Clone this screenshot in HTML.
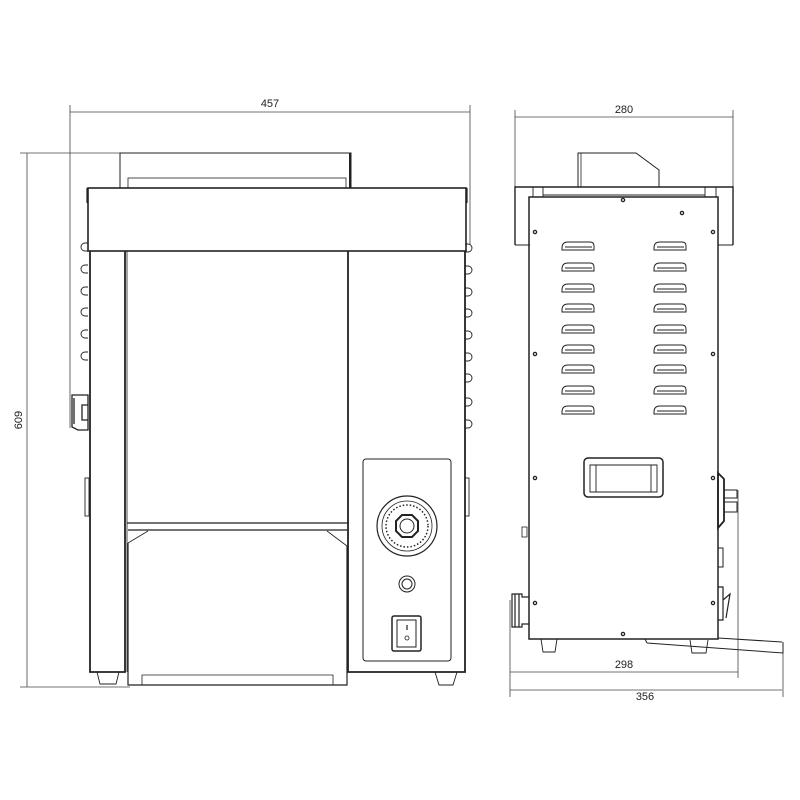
<!DOCTYPE html>
<html><head><meta charset="utf-8"><style>html,body{margin:0;padding:0;background:#fff}svg{display:block}</style></head>
<body>
<svg width="800" height="800" viewBox="0 0 800 800" xmlns="http://www.w3.org/2000/svg" font-family="Liberation Sans, sans-serif" fill="none" stroke="#222">
<g stroke="#444" stroke-width="0.8">
<line x1="70" y1="112" x2="470" y2="112"/>
<line x1="70" y1="105" x2="70" y2="428"/>
<line x1="470" y1="105" x2="470" y2="245"/>
<line x1="27" y1="153" x2="27" y2="687"/>
<line x1="20" y1="153" x2="120" y2="153"/>
<line x1="20" y1="687" x2="130" y2="687"/>
</g>
<text x="270" y="107" font-size="11" fill="#222" stroke="none" text-anchor="middle">457</text>
<text x="22" y="420" font-size="11" fill="#222" stroke="none" text-anchor="middle" transform="rotate(-90 22 420)">609</text>

<rect x="120" y="153" width="231" height="35" stroke-width="1"/>
<line x1="350" y1="153" x2="350" y2="188" stroke-width="2"/>
<rect x="128" y="178" width="218" height="10" stroke-width="0.8"/>
<rect x="88" y="188" width="378" height="63" stroke-width="1.6"/>
<path d="M87 188v15 M467 188v15" stroke-width="1.2"/>
<g stroke-width="0.9">
<path d="M88 243h-3a4 4 0 0 0 0 8h3 M88 265h-3a4 4 0 0 0 0 8h3 M88 287h-3a4 4 0 0 0 0 8h3 M88 308h-3a4 4 0 0 0 0 8h3 M88 330h-3a4 4 0 0 0 0 8h3 M88 352h-3a4 4 0 0 0 0 8h3"/>
<path d="M465 244h3a4 4 0 0 1 0 8h-3 M465 266h3a4 4 0 0 1 0 8h-3 M465 288h3a4 4 0 0 1 0 8h-3 M465 309h3a4 4 0 0 1 0 8h-3 M465 331h3a4 4 0 0 1 0 8h-3 M465 353h3a4 4 0 0 1 0 8h-3 M465 374h3a4 4 0 0 1 0 8h-3 M465 398h3a4 4 0 0 1 0 8h-3 M465 420h3a4 4 0 0 1 0 8h-3"/>
<rect x="85" y="478" width="4" height="38"/>
<rect x="465" y="478" width="4" height="38"/>
</g>
<path d="M88 395h-16v32l6 3h10z M74 398v26 M82 405h6v15h-6z" stroke-width="1.3"/>
<path d="M90 251V672h35V251" stroke-width="1.8"/>
<line x1="127" y1="251" x2="127" y2="672" stroke-width="0.8"/>
<path d="M348 251V672h117V251" stroke-width="1.8"/>
<line x1="127" y1="523" x2="348" y2="523" stroke-width="1.2"/>
<line x1="128" y1="530" x2="347" y2="530" stroke-width="1.2"/>
<path d="M128 543L148 531 M327 531L347 546" stroke-width="0.8"/>
<path d="M128 543V685h219V546" stroke-width="1.2"/>
<path d="M142 685v-10h191v10" stroke-width="0.8"/>
<path d="M97 672l3 12h16l3-12 M435 672l4 13h14l4-13" stroke-width="0.9"/>
<rect x="363" y="459" width="88" height="202" rx="3" stroke-width="1"/>
<circle cx="407" cy="526" r="30" stroke-width="1.2"/>
<circle cx="407" cy="526" r="25" stroke-width="0.8"/>
<circle cx="407" cy="526" r="21" stroke-width="1.5" stroke-dasharray="1.5 2"/>
<polygon points="402,515 412,515 418,521 418,531 412,537 402,537 396,531 396,521" stroke-width="2"/>
<circle cx="407" cy="526" r="7" stroke-width="1"/>
<circle cx="407" cy="584" r="8" stroke-width="1"/>
<circle cx="407" cy="584" r="5" stroke-width="1"/>
<rect x="392" y="616" width="29" height="35" rx="2" stroke-width="1.5"/>
<rect x="397" y="620" width="19" height="27" stroke-width="1"/>
<line x1="407" y1="625" x2="407" y2="630" stroke-width="1.2"/>
<circle cx="407" cy="638" r="2" stroke-width="0.8"/>

<g stroke="#444" stroke-width="0.8">
<line x1="515" y1="117" x2="733" y2="117"/>
<line x1="515" y1="110" x2="515" y2="190"/>
<line x1="733" y1="110" x2="733" y2="190"/>
<line x1="510" y1="672" x2="738" y2="672"/>
<line x1="510" y1="690" x2="782" y2="690"/>
<line x1="510" y1="600" x2="510" y2="697"/>
<line x1="738" y1="490" x2="738" y2="678"/>
<line x1="783" y1="653" x2="783" y2="697"/>
</g>
<text x="624" y="113" font-size="11" fill="#222" stroke="none" text-anchor="middle">280</text>
<text x="624" y="668" font-size="11" fill="#222" stroke="none" text-anchor="middle">298</text>
<text x="645" y="700" font-size="11" fill="#222" stroke="none" text-anchor="middle">356</text>
<path d="M515 245V187h218v58" stroke-width="1.4"/>
<path d="M515 245h15 M733 245h-15" stroke-width="1"/>
<path d="M533 187v10h10v-10 M705 187v10h11v-10 M543 195h162" stroke-width="0.9"/>
<path d="M578 187V153h58l23 17v17" stroke-width="1"/>
<line x1="581" y1="153" x2="581" y2="187" stroke-width="0.8"/>
<rect x="529" y="197" width="189" height="442" stroke-width="1.5"/>
<g stroke-width="1">
<g id="lvs">
<path id="l1" d="M568 242h22q4 0 4 4v4h-32v-2q0-6 6-6z M565 247h27"/>
<use href="#l1" y="21"/>
<use href="#l1" y="42"/>
<use href="#l1" y="62"/>
<use href="#l1" y="83"/>
<use href="#l1" y="103"/>
<use href="#l1" y="123"/>
<use href="#l1" y="144"/>
<use href="#l1" y="164"/>
</g>
<use href="#lvs" x="92"/>
</g>
<rect x="584" y="458" width="79" height="39" rx="4" stroke-width="1.5"/>
<path d="M590 465h67v27h-67z M596 465v27 M651 465v27" stroke-width="0.9"/>
<g stroke-width="1.3">
<circle cx="623" cy="200" r="1.6"/><circle cx="682" cy="213" r="1.6"/>
<circle cx="535" cy="232" r="1.6"/><circle cx="713" cy="232" r="1.6"/>
<circle cx="535" cy="354" r="1.6"/><circle cx="713" cy="354" r="1.6"/>
<circle cx="535" cy="478" r="1.6"/><circle cx="713" cy="478" r="1.6"/>
<circle cx="535" cy="603" r="1.6"/><circle cx="713" cy="603" r="1.6"/>
<circle cx="623" cy="634" r="1.6"/>
</g>
<path d="M718 473l6 6v42l-6 7z" stroke-width="1.8"/>
<path d="M724 490h13v8h-13 M724 502h13v10h-13" stroke-width="1"/>
<rect x="718" y="548" width="5" height="19" stroke-width="1"/>
<path d="M718 587h5v33h-5 M723 600l7-6-4 24" stroke-width="1.2"/>
<path d="M529 597h-7v-3h-10v33h10v-3h7 M515 594v33 M519 594v33" stroke-width="1.2"/>
<rect x="522" y="527" width="5" height="10" stroke-width="0.8"/>
<path d="M541 639l2 13h12l2-13 M690 640l2 13h14l2-13" stroke-width="0.9"/>
<path d="M645 639l2 4 M647 643l136 10V642 M718 638l64 4" stroke-width="1"/>
</svg>
</body></html>
